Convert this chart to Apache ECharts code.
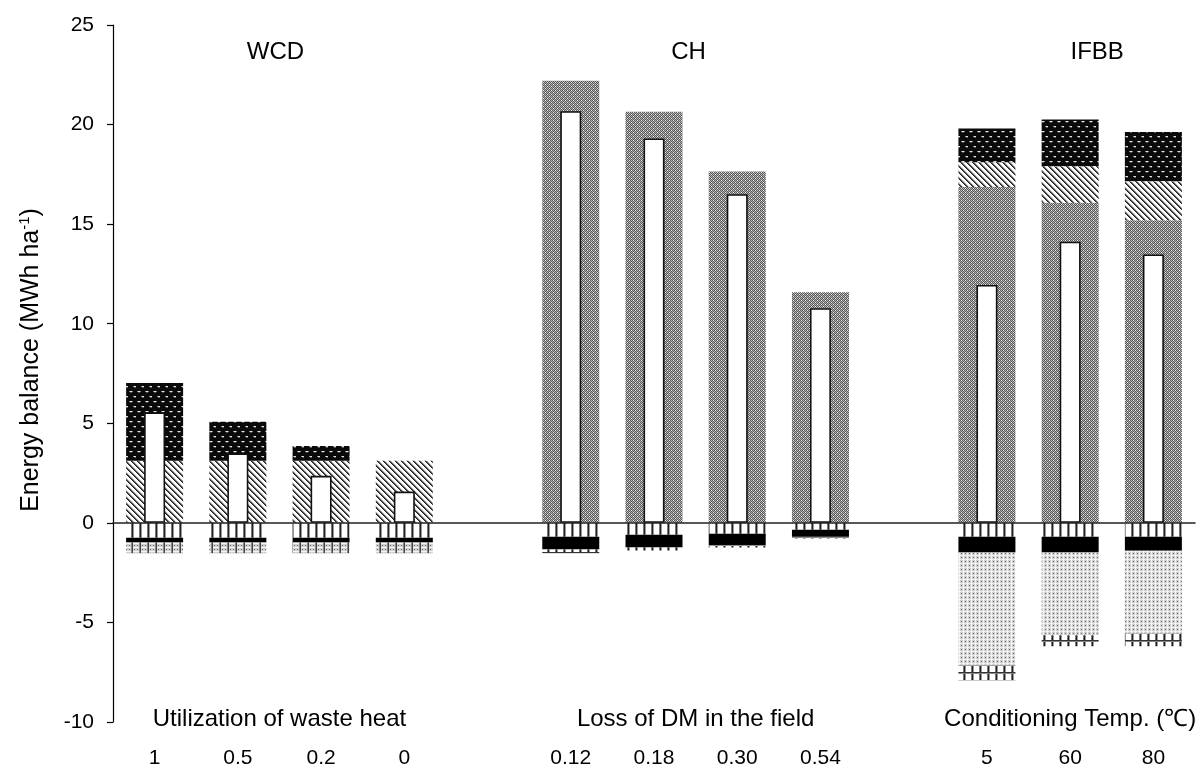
<!DOCTYPE html>
<html>
<head>
<meta charset="utf-8">
<title>Energy balance</title>
<script src="https://cdn.jsdelivr.net/npm/echarts@6/dist/echarts.min.js"></script>
<style>
  html, body { margin: 0; padding: 0; background: #fff; }
  #chart { width: 1203px; height: 769px; }
</style>
</head>
<body>
<div id="chart"></div>
<script>
// Scenario values for each system; empty slots separate the three systems.
const categories = ['1', '0.5', '0.2', '0', '', '0.12', '0.18', '0.30', '0.54', '', '5', '60', '80'];

// Energy outputs (MWh ha-1)
const fuelOut        = ['-', '-', '-', '-', '-', 22.2, 20.65, 17.64, 11.58, '-', 16.86, 16.07, 15.2];
const electricityOut = [3.12, 3.12, 3.12, 3.12, '-', '-', '-', '-', '-', '-', 1.25, 1.84, 1.96];
const heatOut        = [3.9, 1.96, 0.74, 0, '-', '-', '-', '-', '-', '-', 1.69, 2.34, 2.47];

// Energy inputs (MWh ha-1)
const cultivationIn  = [-0.75, -0.75, -0.75, -0.75, '-', -0.7, -0.6, -0.55, -0.35, '-', -0.7, -0.7, -0.7];
const harvestIn      = [-0.24, -0.24, -0.24, -0.24, '-', -0.64, -0.64, -0.57, -0.35, '-', -0.79, -0.79, -0.7];
const digestateIn    = [-0.53, -0.53, -0.53, -0.53, '-', '-', '-', '-', '-', '-', '-', '-', '-'];
const conditioningIn = ['-', '-', '-', '-', '-', '-', '-', '-', '-', '-', -5.66, -4.16, -4.16];
const processingIn   = ['-', '-', '-', '-', '-', -0.18, -0.15, -0.12, -0.08, '-', -0.75, -0.55, -0.64];

// Net energy balance
const netBalance     = [5.55, 3.49, 2.36, 1.57, '-', 20.67, 19.3, 16.5, 10.78, '-', 11.95, 14.12, 13.48];

// Y axis range
const yMin = -10, yMax = 25, yStep = 5;

// System names and the varied parameter of each system
const systemNames = ['WCD', 'CH', 'IFBB'];
const systemParams = ['Utilization of waste heat', 'Loss of DM in the field', 'Conditioning Temp. (\u2103)'];

const FONT = '"Liberation Sans", Arial, sans-serif';

// ---- fill patterns -------------------------------------------------------
function pattern(w, h, draw) {
  const c = document.createElement('canvas');
  c.width = w; c.height = h;
  const ctx = c.getContext('2d');
  draw(ctx, w, h);
  return { image: c, repeat: 'repeat' };
}
function px(ctx, x, y, col) { ctx.fillStyle = col; ctx.fillRect(x, y, 1, 1); }

// dark: black with staggered light dashes
const darkPat = pattern(8, 10, (ctx, w, h) => {
  ctx.fillStyle = '#0a0a0a'; ctx.fillRect(0, 0, w, h);
  const dash = (x, y) => {
    px(ctx, x, y, '#8a8a8a'); px(ctx, x + 1, y, '#e0e0e0'); px(ctx, x + 2, y, '#e0e0e0'); px(ctx, x + 3, y, '#8a8a8a');
    px(ctx, x + 1, y + 1, '#555'); px(ctx, x + 2, y + 1, '#555');
  };
  dash(1, 1); dash(5, 6);
});

// diagonal hatch running down to the right
const hatchPat = pattern(6, 6, (ctx, w, h) => {
  ctx.fillStyle = '#fff'; ctx.fillRect(0, 0, w, h);
  for (let y = 0; y < h; y++) {
    for (let x = 0; x < w; x++) {
      const d = ((x - y) % w + w) % w;
      if (d === 0) px(ctx, x, y, '#222');
      else if (d === 1) px(ctx, x, y, '#555');
      else if (d === 2) px(ctx, x, y, '#bbb');
    }
  }
});

// fine grey checker
const checkerPat = pattern(4, 4, (ctx, w, h) => {
  for (let y = 0; y < h; y++) {
    for (let x = 0; x < w; x++) {
      px(ctx, x, y, (x + y) % 2 === 0 ? '#555' : '#b4b4b4');
    }
  }
  px(ctx, 1, 0, '#f2f2f2'); px(ctx, 3, 2, '#f2f2f2');
});

// vertical lines
const vlinePat = pattern(8, 2, (ctx, w, h) => {
  ctx.fillStyle = '#fff'; ctx.fillRect(0, 0, w, h);
  ctx.fillStyle = '#777'; ctx.fillRect(3, 0, 1, h);
  ctx.fillStyle = '#222'; ctx.fillRect(4, 0, 1, h);
  ctx.fillStyle = '#999'; ctx.fillRect(5, 0, 1, h);
});

// grid of vertical and horizontal lines
const gridPat = pattern(8, 8, (ctx, w, h) => {
  ctx.fillStyle = '#fff'; ctx.fillRect(0, 0, w, h);
  ctx.fillStyle = '#777'; ctx.fillRect(3, 0, 1, h);
  ctx.fillStyle = '#222'; ctx.fillRect(4, 0, 1, h);
  ctx.fillStyle = '#999'; ctx.fillRect(5, 0, 1, h);
  ctx.fillStyle = '#333'; ctx.fillRect(0, 0, w, 1);
  ctx.fillStyle = '#888'; ctx.fillRect(0, 1, w, 1);
});

// light dots
const dotPat = pattern(4, 4, (ctx, w, h) => {
  ctx.fillStyle = '#f4f4f4'; ctx.fillRect(0, 0, w, h);
  ctx.fillStyle = '#cfcfcf'; ctx.fillRect(0, 0, 3, 3);
  px(ctx, 1, 1, '#6a6a6a');
  px(ctx, 1, 3, '#e0e0e0');
});

// light dots crossed by vertical lines
const dotLinePat = pattern(8, 4, (ctx, w, h) => {
  ctx.fillStyle = '#f4f4f4'; ctx.fillRect(0, 0, w, h);
  ctx.fillStyle = '#cfcfcf'; ctx.fillRect(0, 0, 3, 3); ctx.fillRect(5, 0, 3, 3);
  px(ctx, 1, 1, '#6a6a6a'); px(ctx, 6, 1, '#6a6a6a');
  ctx.fillStyle = '#888'; ctx.fillRect(3, 0, 1, h);
  ctx.fillStyle = '#444'; ctx.fillRect(4, 0, 1, h);
});

// ---- chart ---------------------------------------------------------------
const chart = echarts.init(document.getElementById('chart'), null, { renderer: 'canvas' });

const OUTER_W = 57;
function stackSeries(name, data, color) {
  return {
    name, type: 'bar', stack: 'energy', xAxisIndex: 0, yAxisIndex: 0,
    barWidth: OUTER_W, data,
    itemStyle: { color },
    emphasis: { disabled: true },
    animation: false
  };
}

const option = {
  animation: false,
  grid: { left: 113, right: 8, top: 25, bottom: 47, containLabel: false },
  xAxis: [
    {
      type: 'category', data: categories, position: 'bottom', z: 5,
      axisLine: { onZero: true, lineStyle: { color: '#222', width: 1.6 } },
      axisTick: { show: false }, axisLabel: { show: false }, splitLine: { show: false }
    },
    {
      type: 'category', data: categories, position: 'bottom',
      axisLine: { show: false, onZero: false }, axisTick: { show: false }, splitLine: { show: false },
      axisLabel: { show: true, margin: 26, color: '#000', fontSize: 21, fontFamily: FONT, interval: 0 }
    }
  ],
  yAxis: {
    type: 'value', min: yMin, max: yMax, interval: yStep,
    axisLine: { show: true, onZero: false, lineStyle: { color: '#000', width: 1.2 } },
    axisTick: { show: true, inside: false, length: 6, lineStyle: { color: '#000', width: 1.2 } },
    axisLabel: { color: '#000', fontSize: 21, fontFamily: FONT, margin: 19 },
    splitLine: { show: false }
  },
  series: [
    stackSeries('Fuel', fuelOut, checkerPat),
    stackSeries('Electricity', electricityOut, hatchPat),
    stackSeries('Heat', heatOut, darkPat),
    stackSeries('Cultivation', cultivationIn, vlinePat),
    stackSeries('Harvest', harvestIn, '#000'),
    stackSeries('Digestate', digestateIn, dotLinePat),
    stackSeries('Conditioning', conditioningIn, dotPat),
    stackSeries('Processing', processingIn, gridPat),
    {
      name: 'Net balance', type: 'bar', xAxisIndex: 1, yAxisIndex: 0,
      barWidth: 21, data: netBalance, z: 3,
      itemStyle: { color: '#fff', borderColor: '#111', borderWidth: 1.6 },
      emphasis: { disabled: true }
    }
  ]
};
chart.setOption(option);

// ---- system titles and parameter captions --------------------------------
function catX(i) { return chart.convertToPixel({ xAxisIndex: 0 }, i); }
const titleX = [
  (catX(1) + catX(2)) / 2 - 4,
  (catX(6) + catX(7)) / 2 - 7,
  catX(11) + 27
];
const captionX = [
  (catX(1) + catX(2)) / 2,
  (catX(6) + catX(7)) / 2,
  catX(11)
];
const textStyle = { fill: '#000', font: '24px ' + FONT, align: 'center', verticalAlign: 'middle' };
const graphics = [];
systemNames.forEach((n, i) => {
  graphics.push({ type: 'text', x: titleX[i], y: 52, style: Object.assign({ text: n }, textStyle) });
});
systemParams.forEach((n, i) => {
  graphics.push({ type: 'text', x: captionX[i], y: 719, style: Object.assign({ text: n }, textStyle) });
});
// y axis title with superscript
graphics.push({
  type: 'text', x: 31, y: 360, rotation: Math.PI / 2,
  style: {
    text: 'Energy balance (MWh ha{sup|-1})',
    fill: '#000', font: '25px ' + FONT, align: 'center', verticalAlign: 'middle',
    rich: { sup: { fontSize: 15, fontFamily: FONT, fill: '#000', verticalAlign: 'top', lineHeight: 27 } }
  }
});
chart.setOption({ graphic: graphics });
</script>
</body>
</html>
